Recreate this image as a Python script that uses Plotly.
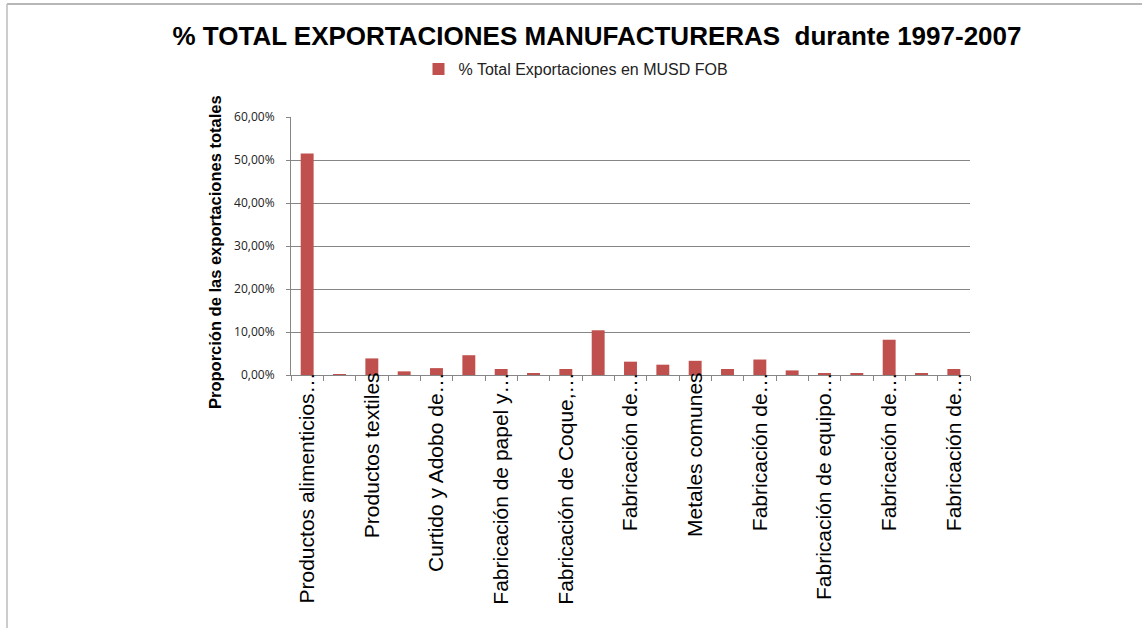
import plotly.graph_objects as go

categories = [
    "Productos alimenticios y bebidas",
    "Productos del tabaco",
    "Productos textiles",
    "Prendas de vestir",
    "Curtido y Adobo de cueros",
    "Producción de madera",
    "Fabricación de papel y productos de papel",
    "Actividades de edición e impresión",
    "Fabricación de Coque, productos de la refinación de petróleo",
    "Fabricación de sustancias y productos químicos",
    "Fabricación de productos de caucho y plástico",
    "Fabricación de otros productos minerales no metálicos",
    "Metales comunes",
    "Fabricación de productos elaborados de metal",
    "Fabricación de maquinaria y equipo",
    "Fabricación de maquinaria de oficina",
    "Fabricación de equipo de radio, televisión y comunicaciones",
    "Fabricación de instrumentos médicos y ópticos",
    "Fabricación de vehículos automotores",
    "Fabricación de otros tipos de equipo de transporte",
    "Fabricación de muebles",
]
tick_labels = [
    "Productos alimenticios…", "", "Productos textiles", "", "Curtido y Adobo de…", "",
    "Fabricación de papel y…", "", "Fabricación de Coque,…", "", "Fabricación de…", "",
    "Metales comunes", "", "Fabricación de…", "", "Fabricación de equipo…", "",
    "Fabricación de…", "", "Fabricación de…",
]
values = [
    0.515, 0.0005, 0.0386, 0.0085, 0.016, 0.046, 0.014, 0.003, 0.014, 0.104,
    0.031, 0.024, 0.033, 0.014, 0.036, 0.0107, 0.003, 0.003, 0.082, 0.003, 0.014,
]
series_name = "% Total Exportaciones en MUSD FOB"
y_ticks = [0, 0.1, 0.2, 0.3, 0.4, 0.5, 0.6]

W, H = 1142, 628
L, R, T, B = 291, 172, 117, 253
pw = W - L - R
ph = H - T - B

fig = go.Figure()
fig.add_trace(go.Bar(
    x=categories, y=values, name=series_name,
    marker=dict(color="#C0504D", line=dict(width=0)),
    showlegend=True,
))

fig.update_layout(
    width=W, height=H,
    margin=dict(l=L, r=R, t=T, b=B, autoexpand=False),
    paper_bgcolor="white", plot_bgcolor="white",
    separators=", ",
    bargap=0.6,
    title=dict(
        text="<b>% TOTAL EXPORTACIONES MANUFACTURERAS  durante 1997-2007</b>",
        x=(597 - L) / pw, xref="paper", xanchor="center",
        y=1 - 36 / H, yref="container", yanchor="middle",
        font=dict(family="Liberation Sans, Arial", size=26, color="black"),
    ),
    legend=dict(
        orientation="h", x=(576 - L) / pw, xanchor="center",
        y=1 + (T - 69) / ph, yanchor="middle",
        font=dict(family="Liberation Sans, Arial", size=16, color="#222"),
        bgcolor="rgba(0,0,0,0)", itemwidth=30,
    ),
    xaxis=dict(
        type="category",
        tickmode="array", tickvals=categories, ticktext=tick_labels,
        tickangle=-90, tickson="boundaries", ticks="outside", ticklen=5,
        tickcolor="#868686", showline=True, linecolor="#868686", linewidth=1,
        showgrid=False, ticklabelstandoff=-12,
        tickfont=dict(family="Liberation Sans, Arial", size=21, color="black"),
    ),
    yaxis=dict(
        range=[0, 0.6], tickmode="array", tickvals=y_ticks, tickformat=".2%",
        ticks="outside", ticklen=4, tickcolor="#868686", ticklabelstandoff=9,
        showline=True, linecolor="#868686", linewidth=1,
        showgrid=True, gridcolor="#868686", gridwidth=1, zeroline=False,
        tickfont=dict(family="Open Sans, DejaVu Sans", size=12, color="#222"),
    ),
    annotations=[dict(
        text="<b>Proporción de las exportaciones totales</b>",
        textangle=-90, xref="paper", yref="paper",
        x=(215 - L) / pw, y=1 - (252 - T) / ph,
        xanchor="center", yanchor="middle", showarrow=False,
        font=dict(family="Liberation Sans, Arial", size=16.5, color="black"),
    )],
    shapes=[
        dict(type="line", xref="paper", yref="paper",
             x0=(7 - L) / pw, x1=(W - L) / pw, y0=1 + (T - 4) / ph, y1=1 + (T - 4) / ph,
             line=dict(color="#A0A0A0", width=1.5)),
        dict(type="line", xref="paper", yref="paper",
             x0=(7 - L) / pw, x1=(7 - L) / pw, y0=1 + (T - 4) / ph, y1=-B / ph,
             line=dict(color="#BBBBBB", width=1.5)),
    ],
)

fig.write_html("out.html", config={"displayModeBar": False},
               post_script="document.body.style.margin='0';")
